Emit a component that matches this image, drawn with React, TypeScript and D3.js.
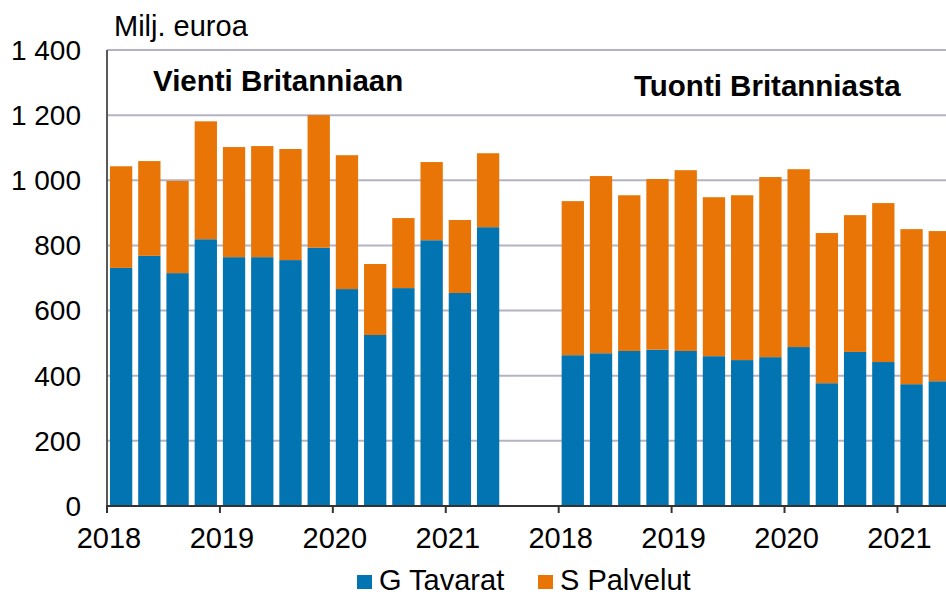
import React, { useEffect, useRef } from "react";
import * as d3 from "d3";

// quarters 2018Q1 .. 2021Q2
const quarters = [
  "2018Q1", "2018Q2", "2018Q3", "2018Q4",
  "2019Q1", "2019Q2", "2019Q3", "2019Q4",
  "2020Q1", "2020Q2", "2020Q3", "2020Q4",
  "2021Q1", "2021Q2",
];

// Vienti Britanniaan (milj. euroa)
const exportGoods = [731, 768, 715, 819, 764, 764, 755, 793, 666, 525, 669, 816, 654, 856];
const exportTotal = [1043, 1059, 998, 1181, 1102, 1105, 1096, 1200, 1077, 743, 884, 1056, 878, 1083];

// Tuonti Britanniasta (milj. euroa)
const importGoods = [463, 469, 476, 480, 476, 460, 448, 457, 488, 377, 473, 442, 374, 383];
const importTotal = [936, 1013, 954, 1004, 1031, 948, 954, 1010, 1034, 838, 893, 930, 850, 844];

const gapSlots = ["gap1", "gap2"];
const yTicks = [0, 200, 400, 600, 800, 1000, 1200, 1400];
const yearLabels = ["2018", "2019", "2020", "2021"];
const seriesNames = ["G Tavarat", "S Palvelut"];
const colors = ["#0274b1", "#e87505"];

const FONT = "'Liberation Sans', Arial, sans-serif";

export default function App() {
  const ref = useRef<SVGSVGElement>(null);

  useEffect(() => {
    const svg = d3.select(ref.current);
    svg.selectAll("*").remove();

    const dims = { width: 946, height: 592, left: 107, top: 50, bottom: 506 };

    // one row per bar: goods + services
    const rows = [
      ...quarters.map((q, i) => ({
        key: "V" + q,
        goods: exportGoods[i],
        services: exportTotal[i] - exportGoods[i],
      })),
      ...gapSlots.map((g) => ({ key: g, goods: 0, services: 0 })),
      ...quarters.map((q, i) => ({
        key: "T" + q,
        goods: importGoods[i],
        services: importTotal[i] - importGoods[i],
      })),
    ];

    const xScale = d3
      .scaleBand<string>()
      .domain(rows.map((d) => d.key))
      .range([dims.left, dims.left + 30 * 28.23])
      .paddingInner(0.21)
      .paddingOuter(0.105);

    const yScale = d3.scaleLinear().domain([0, 1400]).range([dims.bottom, dims.top]);

    const step = xScale.step();
    const slotStart = (k: string) => (xScale(k) as number) - (step - xScale.bandwidth()) / 2;

    // gridlines
    svg
      .append("g")
      .selectAll("line")
      .data(yTicks.filter((t) => t > 0))
      .join("line")
      .attr("x1", dims.left)
      .attr("x2", dims.width)
      .attr("y1", (d) => yScale(d))
      .attr("y2", (d) => yScale(d))
      .attr("stroke", "#b4b3c3")
      .attr("stroke-width", 2);

    // stacked bars
    const stack = d3.stack<any>().keys(["goods", "services"]);
    const layers = stack(rows.filter((r) => !r.key.startsWith("gap")));

    svg
      .append("g")
      .selectAll("g")
      .data(layers)
      .join("g")
      .attr("fill", (_, i) => colors[i])
      .selectAll("rect")
      .data((d) => d)
      .join("rect")
      .attr("x", (d) => xScale(d.data.key) as number)
      .attr("width", xScale.bandwidth())
      .attr("y", (d) => yScale(d[1]))
      .attr("height", (d) => yScale(d[0]) - yScale(d[1]));

    // axes
    svg
      .append("line")
      .attr("x1", dims.left)
      .attr("x2", dims.left)
      .attr("y1", dims.top)
      .attr("y2", dims.bottom)
      .attr("stroke", "#595959")
      .attr("stroke-width", 2);

    svg
      .append("line")
      .attr("x1", dims.left - 1)
      .attr("x2", dims.width)
      .attr("y1", dims.bottom)
      .attr("y2", dims.bottom)
      .attr("stroke", "#333")
      .attr("stroke-width", 2);

    // y tick labels
    const fmt = (v: number) => d3.format(",")(v).replace(",", " ");
    svg
      .append("g")
      .selectAll("text")
      .data(yTicks)
      .join("text")
      .attr("x", 81)
      .attr("y", (d) => yScale(d))
      .attr("dy", "0.35em")
      .attr("text-anchor", "end")
      .attr("font-family", FONT)
      .attr("font-size", 28)
      .attr("fill", "#000")
      .text((d) => fmt(d));

    // x ticks and year labels
    const yearTicks = [
      ...yearLabels.map((y) => ({ x: slotStart("V" + y + "Q1"), label: y })),
      ...yearLabels.map((y) => ({ x: slotStart("T" + y + "Q1"), label: y })),
    ];
    const xg = svg.append("g");
    xg.selectAll("line")
      .data(yearTicks)
      .join("line")
      .attr("x1", (d) => d.x)
      .attr("x2", (d) => d.x)
      .attr("y1", dims.bottom)
      .attr("y2", dims.bottom + 7)
      .attr("stroke", "#333")
      .attr("stroke-width", 2);
    xg.selectAll("text")
      .data(yearTicks)
      .join("text")
      .attr("x", (d) => d.x + 2)
      .attr("y", 548)
      .attr("text-anchor", "middle")
      .attr("font-family", FONT)
      .attr("font-size", 29)
      .attr("fill", "#000")
      .text((d) => d.label);

    // unit label
    svg
      .append("text")
      .attr("x", 114)
      .attr("y", 36)
      .attr("font-family", FONT)
      .attr("font-size", 29)
      .attr("fill", "#000")
      .text("Milj. euroa");

    // panel titles
    svg
      .append("text")
      .attr("x", 153)
      .attr("y", 91)
      .attr("font-family", FONT)
      .attr("font-size", 29.5)
      .attr("font-weight", "bold")
      .attr("fill", "#000")
      .text("Vienti Britanniaan");

    svg
      .append("text")
      .attr("x", 634)
      .attr("y", 96)
      .attr("font-family", FONT)
      .attr("font-size", 29.5)
      .attr("font-weight", "bold")
      .attr("fill", "#000")
      .text("Tuonti Britanniasta");

    // legend
    const legendX = [357, 538];
    const lg = svg
      .append("g")
      .selectAll("g")
      .data(seriesNames)
      .join("g")
      .attr("transform", (_, i) => `translate(${legendX[i]}, 575)`);
    lg.append("rect")
      .attr("width", 15)
      .attr("height", 14)
      .attr("fill", (_, i) => colors[i]);
    lg.append("text")
      .attr("x", 22)
      .attr("y", 15)
      .attr("font-family", FONT)
      .attr("font-size", 29)
      .attr("fill", "#000")
      .text((d) => d);
  }, []);

  return (
    <svg
      ref={ref}
      width={946}
      height={592}
      style={{ position: "absolute", left: 0, top: 0, background: "#fff" }}
    />
  );
}
